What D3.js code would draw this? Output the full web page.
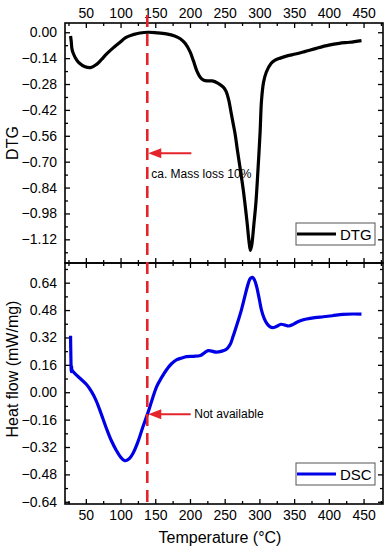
<!DOCTYPE html>
<html>
<head>
<meta charset="utf-8">
<script src="https://cdn.jsdelivr.net/npm/d3@7"></script>
<style>
  body { margin: 0; background: #fff; }
  text { font-family: "Liberation Sans", Arial, sans-serif; }
</style>
</head>
<body>
<script>
// DTG curve (temperature in °C, DTG)
var dtgTemp = [28, 29, 30, 32, 36, 41, 48, 57, 65, 72, 80, 89, 98, 108, 118, 128, 140, 152, 166, 178, 186, 193, 200, 205, 210, 215, 220, 226, 232, 240, 248, 252, 256, 259, 262, 265, 268, 272, 277, 282, 285, 287, 289, 292, 295, 298, 301, 303, 306, 310, 317, 322, 330, 340, 352, 365, 382, 400, 415, 430, 447];
var dtgVal = [-0.02, -0.05, -0.09, -0.115, -0.145, -0.168, -0.185, -0.191, -0.175, -0.15, -0.117, -0.086, -0.058, -0.028, -0.013, -0.004, 0.0, -0.003, -0.009, -0.02, -0.035, -0.06, -0.105, -0.155, -0.21, -0.245, -0.26, -0.263, -0.263, -0.275, -0.297, -0.32, -0.37, -0.43, -0.49, -0.55, -0.63, -0.73, -0.86, -1.02, -1.13, -1.18, -1.15, -1.04, -0.92, -0.74, -0.54, -0.37, -0.27, -0.215, -0.168, -0.152, -0.14, -0.128, -0.118, -0.105, -0.087, -0.07, -0.06, -0.054, -0.045];

// DSC curve (temperature in °C, heat flow mW/mg)
var dscTemp = [28, 28.5, 29, 29.5, 30, 34, 42, 51, 58, 65, 72, 80, 87, 94, 100, 106, 112, 118, 125, 132, 139, 145, 152, 159, 166, 173, 181, 188, 195, 205, 215, 226, 238, 246, 253, 258, 262, 268, 274, 279, 284, 287, 290, 293, 296, 300, 303, 307, 311, 315, 319, 325, 331, 337, 342, 348, 354, 361, 368, 380, 392, 405, 420, 435, 447];
var dscVal = [0.33, 0.2, 0.12, 0.15, 0.13, 0.11, 0.08, 0.045, 0.005, -0.05, -0.125, -0.215, -0.285, -0.34, -0.378, -0.4, -0.39, -0.356, -0.29, -0.205, -0.125, -0.05, 0.033, 0.085, 0.13, 0.165, 0.19, 0.2, 0.208, 0.21, 0.215, 0.243, 0.234, 0.24, 0.253, 0.28, 0.325, 0.4, 0.48, 0.56, 0.636, 0.665, 0.671, 0.655, 0.617, 0.54, 0.48, 0.43, 0.4, 0.383, 0.377, 0.385, 0.397, 0.392, 0.387, 0.395, 0.409, 0.42, 0.428, 0.436, 0.441, 0.447, 0.455, 0.457, 0.456];

var xTicks = [50, 100, 150, 200, 250, 300, 350, 400, 450];
var dtgTicks = [0.00, -0.14, -0.28, -0.42, -0.56, -0.70, -0.84, -0.98, -1.12];
var dscTicks = [0.64, 0.48, 0.32, 0.16, 0.00, -0.16, -0.32, -0.48, -0.64];

var markTemp = 138.5;        // red dashed line
var dtgNote = "ca. Mass loss 10%";
var dscNote = "Not available";

var W = 392, H = 550;
var left = 65, right = 383, top1 = 23, mid = 263, bot = 504;
var red = "#e5232a";

var svg = d3.select("body").append("svg")
  .attr("width", W)
  .attr("height", H)

var x = d3.scaleLinear().domain([20, 478]).range([left, right]);
var y1 = d3.scaleLinear().domain([-1.248, 0.05]).range([mid, top1]);
var y2 = d3.scaleLinear().domain([-0.653, 0.755]).range([bot, mid]);

var minorX = d3.range(25, 478, 25).filter(function(d){ return d % 50 != 0; });

function drawAxes(y, yTicks, step, yTop, yBot, showTop, showBottom) {
  var minorY = yTicks.map(function(d){ return d - step / 2; }).concat([yTicks[0] + step / 2]);
  minorY = minorY.filter(function(d){ return y(d) > yTop + 1 && y(d) < yBot - 1; });

  // left axis with labels
  var gl = svg.append("g").attr("transform", "translate(" + left + ",0)")
    .call(d3.axisLeft(y).tickValues(yTicks).tickSize(-5).tickPadding(8).tickFormat(d3.format(".2f")));
  gl.append("g").call(d3.axisLeft(y).tickValues(minorY).tickSize(-3).tickFormat(""));
  // right axis
  var gr = svg.append("g").attr("transform", "translate(" + right + ",0)")
    .call(d3.axisRight(y).tickValues(yTicks).tickSize(-5).tickFormat(""));
  gr.append("g").call(d3.axisRight(y).tickValues(minorY).tickSize(-3).tickFormat(""));
  // top axis
  var gt = svg.append("g").attr("transform", "translate(0," + yTop + ")")
    .call(d3.axisTop(x).tickValues(xTicks).tickSize(-5).tickPadding(5).tickFormat(showTop ? d3.format("d") : ""));
  gt.append("g").call(d3.axisTop(x).tickValues(minorX).tickSize(-3).tickFormat(""));
  // bottom axis
  var gb = svg.append("g").attr("transform", "translate(0," + yBot + ")")
    .call(d3.axisBottom(x).tickValues(xTicks).tickSize(-5).tickPadding(6).tickFormat(showBottom ? d3.format("d") : ""));
  gb.append("g").call(d3.axisBottom(x).tickValues(minorX).tickSize(-3).tickFormat(""));

  [gl, gr, gt, gb].forEach(function(g){
    g.selectAll(".domain").attr("d", null);
    g.selectAll(".tick line").attr("stroke", "#000").attr("stroke-width", 1.3);
    g.selectAll("text").attr("font-size", 14).attr("fill", "#000")
      .style("font-family", "'Liberation Sans', Arial, sans-serif");
  });
  svg.append("rect").attr("x", left).attr("y", yTop)
    .attr("width", right - left).attr("height", yBot - yTop)
    .attr("fill", "none").attr("stroke", "#000").attr("stroke-width", 1.6);
}

drawAxes(y1, dtgTicks, 0.14, top1, mid, true, false);
drawAxes(y2, dscTicks, 0.16, mid, bot, false, true);

// curves
var dtgData = dtgTemp.map(function(t, i){ return {t: t, v: dtgVal[i]}; });
var dscData = dscTemp.map(function(t, i){ return {t: t, v: dscVal[i]}; });

svg.append("path").datum(dtgData)
  .attr("fill", "none").attr("stroke", "#000").attr("stroke-width", 3.2)
  .attr("stroke-linejoin", "round")
  .attr("d", d3.line().curve(d3.curveCatmullRom.alpha(0.5)).x(function(d){ return x(d.t); }).y(function(d){ return y1(d.v); }));

svg.append("path").datum(dscData)
  .attr("fill", "none").attr("stroke", "#0000e6").attr("stroke-width", 3.2)
  .attr("stroke-linejoin", "round")
  .attr("d", d3.line().curve(d3.curveCatmullRom.alpha(0.5)).x(function(d){ return x(d.t); }).y(function(d){ return y2(d.v); }));

// red dashed marker
svg.append("line")
  .attr("x1", x(markTemp)).attr("x2", x(markTemp))
  .attr("y1", 15).attr("y2", 509)
  .attr("stroke", red).attr("stroke-width", 2.6)
  .attr("stroke-dasharray", "12,7");

function arrow(yPx, fromT) {
  var tip = x(markTemp) + 1;
  svg.append("line")
    .attr("x1", x(fromT)).attr("x2", tip + 10)
    .attr("y1", yPx).attr("y2", yPx)
    .attr("stroke", red).attr("stroke-width", 2);
  svg.append("path")
    .attr("d", "M" + tip + "," + yPx + "L" + (tip + 13) + "," + (yPx - 5) + "L" + (tip + 13) + "," + (yPx + 5) + "Z")
    .attr("fill", red);
}
arrow(y1(-0.654), 202);
arrow(y2(-0.128), 201);

svg.append("text").attr("x", x(markTemp) + 4).attr("y", y1(-0.79))
  .attr("font-size", 12).text(dtgNote);
svg.append("text").attr("x", x(markTemp) + 47).attr("y", y2(-0.128) + 4)
  .attr("font-size", 12).text(dscNote);

// legends
function legend(yPx, label, color) {
  var g = svg.append("g").attr("transform", "translate(296," + yPx + ")");
  g.append("rect").attr("x", 0).attr("y", 0).attr("width", 79).attr("height", 22)
    .attr("fill", "#fff").attr("stroke", "#555").attr("stroke-width", 1);
  g.append("line").attr("x1", 1).attr("x2", 40).attr("y1", 11).attr("y2", 11)
    .attr("stroke", color).attr("stroke-width", 3.2);
  g.append("text").attr("x", 44).attr("y", 16.5).attr("font-size", 15).text(label);
}
legend(223, "DTG", "#000");
legend(463, "DSC", "#0000e6");

// axis titles
svg.append("text").attr("transform", "translate(18," + (top1 + mid) / 2 + ") rotate(-90)")
  .attr("text-anchor", "middle").attr("font-size", 16).text("DTG");
svg.append("text").attr("transform", "translate(18," + 369 + ") rotate(-90)")
  .attr("text-anchor", "middle").attr("font-size", 16).text("Heat flow (mW/mg)");
svg.append("text").attr("x", 220).attr("y", 543)
  .attr("text-anchor", "middle").attr("font-size", 16).text("Temperature (°C)");
</script>
</body>
</html>
